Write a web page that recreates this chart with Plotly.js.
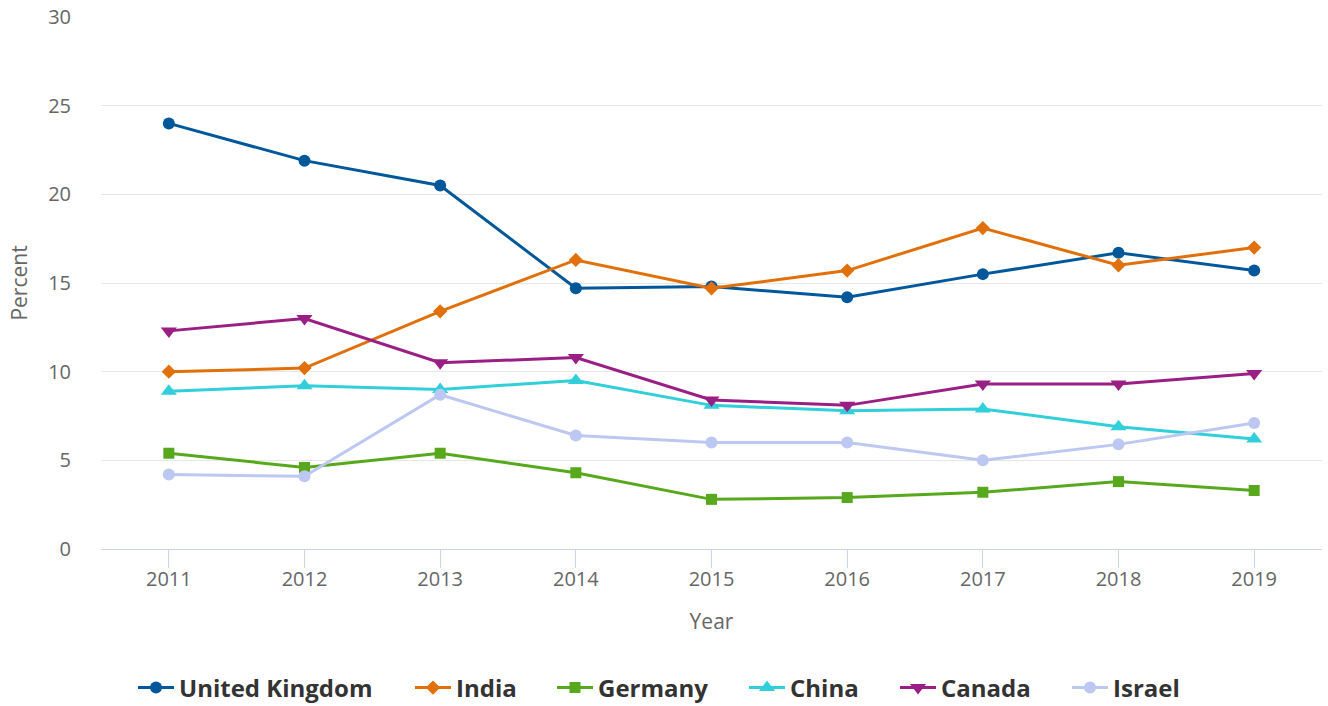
<!DOCTYPE html>
<html><head><meta charset="utf-8">
<script src="https://cdn.plot.ly/plotly-3.0.1.min.js"></script>
<style>html,body{margin:0;padding:0;background:#fff}#chart{width:1328px;height:706px}</style>
</head><body><div id="chart"></div>
<script>
const years = [2011, 2012, 2013, 2014, 2015, 2016, 2017, 2018, 2019];
const unitedKingdom = [24.0, 21.9, 20.5, 14.7, 14.8, 14.2, 15.5, 16.7, 15.7];
const india = [10.0, 10.2, 13.4, 16.3, 14.7, 15.7, 18.1, 16.0, 17.0];
const germany = [5.4, 4.6, 5.4, 4.3, 2.8, 2.9, 3.2, 3.8, 3.3];
const china = [8.9, 9.2, 9.0, 9.5, 8.1, 7.8, 7.9, 6.9, 6.2];
const canada = [12.3, 13.0, 10.5, 10.8, 8.4, 8.1, 9.3, 9.3, 9.9];
const israel = [4.2, 4.1, 8.7, 6.4, 6.0, 6.0, 5.0, 5.9, 7.1];

const seriesNames = ['United Kingdom', 'India', 'Germany', 'China', 'Canada', 'Israel'];
const seriesValues = [unitedKingdom, india, germany, china, canada, israel];

// styling
const colors = ['#00579a', '#e1700a', '#57a81c', '#30cfd9', '#9a1f85', '#bdc8f2'];
const symbols = ['circle', 'diamond', 'square', 'triangle-up', 'triangle-down', 'circle'];
const sizes = [12, 11, 11, 14, 14, 12];
const legendLeftPx = [138, 415, 557, 749, 900, 1072];

const L = 101, R = 6, T = 17, B = 157, W = 1328, H = 706;
const plotW = W - L - R, plotH = H - T - B;

const traces = seriesNames.map((n, i) => ({
  type: 'scatter', mode: 'lines+markers', name: n,
  x: years, y: seriesValues[i],
  legend: i === 0 ? 'legend' : 'legend' + (i + 1),
  line: {color: colors[i], width: 3},
  marker: {color: colors[i], symbol: symbols[i], size: sizes[i]}
}));

const layout = {
  width: W, height: H,
  margin: {l: L, r: R, t: T, b: B, autoexpand: false},
  paper_bgcolor: '#fff', plot_bgcolor: '#fff',
  font: {family: 'Open Sans, sans-serif', color: '#666'},
  showlegend: true,
  xaxis: {
    range: [2010.5, 2019.5], tickvals: years, ticktext: years.map(String),
    showgrid: false, zeroline: false,
    showline: true, linecolor: '#ccd6eb', linewidth: 1,
    ticks: 'outside', ticklen: 18, tickcolor: '#ccd6eb', tickwidth: 1,
    ticklabelstandoff: -6,
    tickfont: {size: 20, color: '#666'},
    title: {text: 'Year', font: {size: 21, color: '#666'}, standoff: 23}
  },
  yaxis: {
    range: [0, 30], tickvals: [0, 5, 10, 15, 20, 25, 30],
    showgrid: true, gridcolor: '#e6e6e6', gridwidth: 1, zeroline: false,
    showline: false, ticks: '', ticklabelstandoff: 29,
    tickfont: {size: 20, color: '#666'},
    title: {text: 'Percent', font: {size: 21, color: '#666'}, standoff: 14}
  }
};
legendLeftPx.forEach((px, i) => {
  const key = i === 0 ? 'legend' : 'legend' + (i + 1);
  layout[key] = {
    orientation: 'h', x: (px - 5 - L) / plotW, xanchor: 'left',
    y: (T + plotH - 688) / plotH, yanchor: 'middle',
    bgcolor: 'rgba(0,0,0,0)', borderwidth: 0,
    font: {size: 24, color: '#333', family: 'Open Sans, sans-serif', weight: 'bold'},
    itemwidth: 36
  };
});
Plotly.newPlot('chart', traces, layout, {displayModeBar: false, staticPlot: true});
</script></body></html>
